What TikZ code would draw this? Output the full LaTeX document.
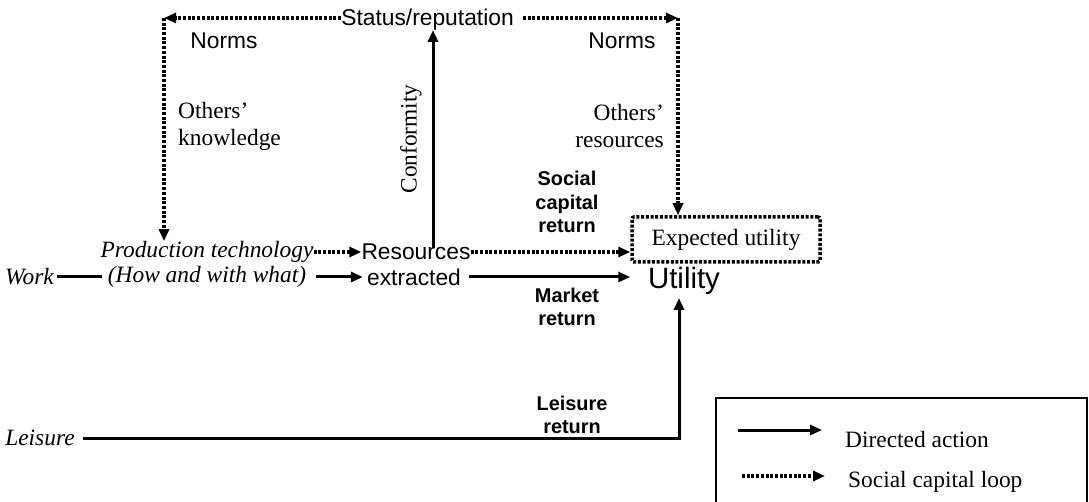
\documentclass[tikz,border=0pt]{standalone}
\usepackage{fontspec}
\setmainfont{Liberation Serif}
\newfontfamily\sansf{Liberation Sans}
\usetikzlibrary{arrows.meta}
\tikzset{
  sline/.style={line width=3pt},
  sarrow/.style={sline,-{Triangle[length=12pt,width=10pt]}},
  dline/.style={line width=3.5pt,dash pattern=on 3pt off 1.7pt},
  darrow/.style={dline,-{Triangle[length=12pt,width=10pt]}},
  sanslab/.style={font=\sansf\fontsize{22.8}{25}\selectfont,inner sep=0pt},
  boldlab/.style={font=\sansf\bfseries\fontsize{19.9}{23.5}\selectfont,align=center,inner sep=0pt},
  seriflab/.style={font=\fontsize{23.4}{27}\selectfont,inner sep=0pt},
  itlab/.style={font=\itshape\fontsize{23.4}{27}\selectfont,inner sep=0pt},
}
\begin{document}
\begin{tikzpicture}[x=1pt,y=-1pt]
\useasboundingbox (0,0) rectangle (1089,502);

% top loop
\node[sanslab] (status) at (427.5,20) {Status/reputation};
\coordinate (lc) at (164,18);
\coordinate (rc) at (678,18);
\coordinate (sr) at ([xshift=9pt]status.east);
\draw[darrow] (status.west |- lc) -- (lc);
\draw[darrow] (sr |- rc) -- (rc);

\node[sanslab] (normsL) at (224,41) {Norms};
\node[sanslab] (normsR) at (622,41) {Norms};
\node[seriflab,align=left,anchor=west] (ok) at (178,126) {Others’\\knowledge};
\node[seriflab,align=right,anchor=east] (or) at (664,126) {Others’\\resources};
\node[seriflab,rotate=90] (conf) at (411,139) {Conformity};

% main row
\node[itlab] (prod1) at (207,252) {Production technology};
\node[itlab] (prod2) at (207,277) {(How and with what)};
\node[sanslab] (res1) at (416,252) {Resources};
\node[sanslab] (res2) at (414,277) {extracted};
\node[itlab] (work) at (29.5,277) {Work};
\node[itlab] (leis) at (40,438) {Leisure};

\node[draw,dline,seriflab,minimum width=188pt,minimum height=45pt,rounded corners=2pt] (eu) at (726,239.5) {Expected utility};
\node[font=\sansf\fontsize{29.4}{31}\selectfont,inner sep=0pt] (util) at (684,281) {Utility};

\draw[darrow] (lc) -- (lc |- prod1.north);
\draw[darrow] (rc) -- (rc |- eu.north);

\draw[sline] ([xshift=3pt]work.east) -- ([xshift=-6pt]prod2.west);
\draw[darrow] (prod1.east) -- (res1.west);
\draw[sarrow] ([xshift=10pt]prod2.east) -- ([xshift=-4pt]res2.west);
\draw[darrow] (res1.east) -- (res1.east -| eu.west);
\draw[sarrow] ([xshift=8pt]res2.east) -- (res2.east -| eu.west);

\coordinate (cf) at (433,30);
\draw[sarrow] ([yshift=-4pt]res1.north -| cf) -- (cf);

\coordinate (lt) at (679,298);
\draw[sarrow] ([xshift=8pt]leis.east) -| (lt);

% labels
\node[boldlab] (scr) at (567,202) {Social\\capital\\return};
\node[boldlab] (mr) at (567,307) {Market\\return};
\node[boldlab] (lr) at (572,415) {Leisure\\return};

% legend
\draw[line width=1.3pt] (716,506) |- (1087,398) -- (1087,506);
\node[seriflab,anchor=west] (da) at (845,439) {Directed action};
\node[seriflab,anchor=west] (scl) at (848,482) {Social capital loop};
\coordinate (l1a) at (738,430);
\coordinate (l1b) at (822,430);
\coordinate (l2a) at (742,476);
\coordinate (l2b) at (825,476);
\draw[sarrow] (l1a) -- (l1b);
\draw[darrow] (l2a) -- (l2b);
\end{tikzpicture}
\end{document}
